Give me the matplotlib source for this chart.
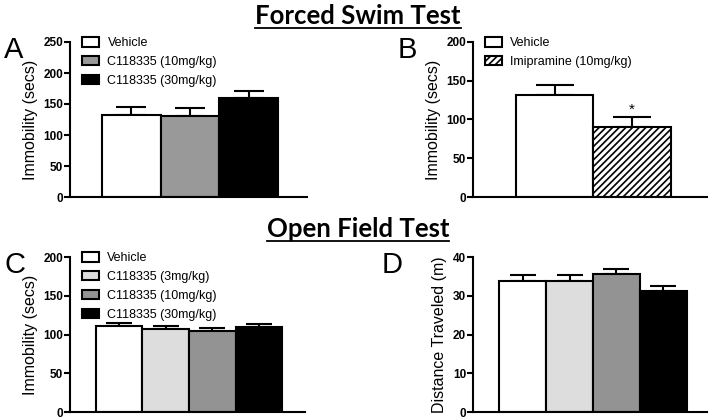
import matplotlib
matplotlib.use("Agg")
import matplotlib.pyplot as plt
from matplotlib.patches import Patch
from matplotlib.lines import Line2D

plt.rcParams['font.family'] = ['Liberation Sans', 'DejaVu Sans']
plt.rcParams['hatch.linewidth'] = 1.2

# Panel A - forced swim, C118335
a_labels = ["Vehicle", "C118335 (10mg/kg)", "C118335 (30mg/kg)"]
a_means = [132, 130, 160]
a_sem = [13, 14, 11]
a_colors = ["white", "#999999", "black"]

# Panel B - forced swim, imipramine
b_labels = ["Vehicle", "Imipramine (10mg/kg)"]
b_means = [132, 90]
b_sem = [13, 13]
b_colors = ["white", "white"]
b_hatch = ["", "/////"]

# Panel C - open field immobility
c_labels = ["Vehicle", "C118335 (3mg/kg)", "C118335 (10mg/kg)", "C118335 (30mg/kg)"]
c_means = [111, 107, 105, 109.5]
c_sem = [3.5, 4, 4, 4]
c_colors = ["white", "#dddddd", "#939393", "black"]

# Panel D - distance traveled
d_means = [33.9, 33.7, 35.6, 31.3]
d_sem = [1.5, 1.6, 1.3, 1.2]

W, H = 712, 419
fig = plt.figure(figsize=(W / 100, H / 100), dpi=100)


def add_ax(x0, x1, ytop, ybot):
    return fig.add_axes([x0 / W, 1 - ybot / H, (x1 - x0) / W, (ybot - ytop) / H])


def style(ax, ymax, step, ylabel, xlim):
    ax.set_ylim(0, ymax)
    ax.set_yticks(range(0, ymax + 1, step))
    ax.set_xlim(*xlim)
    ax.set_xticks([])
    for s in ["top", "right"]:
        ax.spines[s].set_visible(False)
    for s in ["left", "bottom"]:
        ax.spines[s].set_linewidth(1.5)
    ax.tick_params(axis='y', length=4, width=1.5, pad=1, labelsize=8.5)
    for t in ax.get_yticklabels():
        t.set_fontweight('bold')
    ax.set_ylabel(ylabel, fontsize=11.5, labelpad=4)


def bars(ax, means, sem, colors, cap, hatches=None):
    x = list(range(len(means)))
    hatches = hatches or [""] * len(means)
    for i in x:
        ax.bar(i, means[i], width=1.0, color=colors[i], edgecolor="black",
               linewidth=1.5, hatch=hatches[i], zorder=2)
    # caps are drawn as markers 2*capsize long
    ax.errorbar(x, means, yerr=[[0] * len(means), sem], fmt="none",
                ecolor="black", elinewidth=1.5, capsize=cap, capthick=1.5, zorder=1)


def legend(ax, labels, colors, x, y, hatches=None):
    hatches = hatches or [""] * len(labels)
    handles = [Patch(facecolor=c, edgecolor="black", linewidth=1.5, hatch=h)
               for c, h in zip(colors, hatches)]
    ax.legend(handles, labels, loc="upper left", bbox_to_anchor=(x, y),
              frameon=False, fontsize=9, handlelength=1.4, handleheight=0.75,
              handletextpad=0.65, labelspacing=0.55, borderpad=0, borderaxespad=0)


# A
axA = add_ax(70, 307, 42, 197)
bars(axA, a_means, a_sem, a_colors, 10.8)
style(axA, 250, 50, "Immobility (secs)", (-1.045, 2.994))
legend(axA, a_labels, a_colors, 0.05, 1.03)

# B
axB = add_ax(473, 707, 42, 197)
bars(axB, b_means, b_sem, b_colors, 14, b_hatch)
style(axB, 200, 50, "Immobility (secs)", (-1.051, 1.965))
legend(axB, b_labels, b_colors, 0.05, 1.03, b_hatch)
axB.text(1, b_means[1] + b_sem[1], "*", ha="center", va="bottom", fontsize=11)

# C
axC = add_ax(70, 305, 257, 412)
bars(axC, c_means, c_sem, c_colors, 9.5)
style(axC, 200, 50, "Immobility (secs)", (-1.05, 3.99))
legend(axC, c_labels, c_colors, 0.05, 1.03)

# D
axD = add_ax(473, 707, 257, 412)
bars(axD, d_means, d_sem, c_colors, 9.5)
style(axD, 40, 10, "Distance Traveled (m)", (-1.06, 3.93))

# panel letters
for lab, px, py in [("A", 4, 58), ("B", 398, 58), ("C", 4, 273), ("D", 382, 273)]:
    fig.text(px / W, 1 - py / H, lab, fontsize=21, ha="left", va="baseline")

# section titles, underlined
fig.canvas.draw()
r = fig.canvas.get_renderer()
for title, py in [("Forced Swim Test", 24), ("Open Field Test", 237)]:
    t = fig.text(358 / W, 1 - py / H, title, fontsize=18.5, fontweight="bold",
                 family="Lato", ha="center", va="baseline")
    bb = t.get_window_extent(r)
    yl = (1 - (py + 4) / H)
    fig.add_artist(Line2D([bb.x0 / W, bb.x1 / W], [yl, yl], color="black",
                          linewidth=1.3, transform=fig.transFigure))

fig.savefig("out.png", dpi=100)
